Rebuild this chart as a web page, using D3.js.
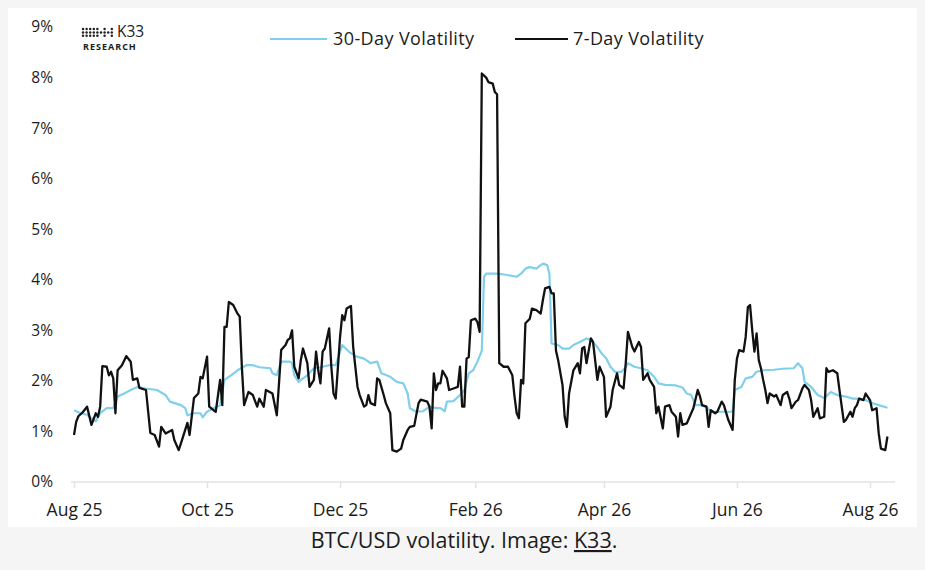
<meta charset="utf-8">
<style>
  html, body { margin: 0; padding: 0; background: #f5f5f5; }
  svg { display: block; }
  text { font-family: "Open Sans", Inter, sans-serif; fill: #1c1c1c; }
</style>
<body>
<script src="https://d3js.org/d3.v7.min.js"></script>
<script>
  var outerWidth = 925,
      outerHeight = 570;

  // series start; points are [day offset, volatility %]
  var startDate = new Date(2025, 7, 1);

  var vol30 = [
    [0, 1.42], [3, 1.36], [6, 1.33], [9, 1.23], [10, 1.20], [12, 1.36], [15, 1.46], [18, 1.46],
    [20, 1.69], [23, 1.75], [26, 1.82], [29, 1.88], [33, 1.85], [38, 1.82], [42, 1.72], [44, 1.59],
    [49, 1.52], [51, 1.46], [52, 1.32], [55, 1.36], [58, 1.36], [59, 1.28], [61, 1.39], [64, 1.46],
    [67, 1.52], [69, 2.02], [72, 2.11], [75, 2.21], [79, 2.31], [82, 2.31], [85, 2.27], [90, 2.25],
    [91, 2.15], [93, 2.11], [95, 2.38], [99, 2.38], [100, 2.35], [101, 2.11], [103, 1.98], [105, 2.05],
    [107, 2.11], [110, 2.25], [113, 2.27], [117, 2.31], [120, 2.31], [123, 2.71], [126, 2.58], [129, 2.49],
    [133, 2.44], [136, 2.35], [139, 2.38], [141, 2.15], [145, 2.08], [148, 1.98], [151, 1.95], [153, 1.75],
    [154, 1.46], [157, 1.39], [160, 1.40], [163, 1.49], [166, 1.46], [168, 1.46], [170, 1.40], [171, 1.59],
    [174, 1.60], [177, 1.72], [179, 1.82], [181, 2.15], [183, 2.21], [185, 2.38], [187, 2.60], [188, 4.06],
    [189, 4.12], [194, 4.12], [198, 4.10], [203, 4.06], [205, 4.12], [207, 4.22], [209, 4.25], [212, 4.22],
    [214, 4.29], [215, 4.32], [217, 4.29], [218, 4.12], [219, 2.74], [222, 2.71], [224, 2.64], [227, 2.64],
    [229, 2.71], [232, 2.77], [235, 2.84], [237, 2.81], [240, 2.67], [242, 2.54], [244, 2.45], [246, 2.28],
    [248, 2.18], [251, 2.18], [253, 2.27], [254, 2.35], [257, 2.28], [260, 2.25], [263, 2.21], [266, 2.08],
    [268, 1.95], [271, 1.92], [276, 1.91], [279, 1.87], [281, 1.75], [283, 1.72], [285, 1.52], [287, 1.52],
    [290, 1.49], [292, 1.39], [295, 1.39], [299, 1.39], [302, 1.39], [303, 1.82], [306, 1.88], [308, 2.05],
    [311, 2.08], [313, 2.18], [316, 2.21], [321, 2.22], [325, 2.24], [330, 2.25], [332, 2.35], [334, 2.25],
    [335, 1.98], [338, 1.88], [341, 1.72], [344, 1.66], [347, 1.78], [350, 1.72], [354, 1.69], [357, 1.65],
    [360, 1.65], [363, 1.62], [366, 1.56], [369, 1.52], [373, 1.47]
  ];

  var vol7 = [
    [0, 0.93], [1, 1.19], [2, 1.30], [4, 1.38], [6, 1.49], [8, 1.13], [10, 1.36], [11, 1.29],
    [12, 1.49], [13, 2.29], [15, 2.28], [16, 2.11], [17, 2.18], [18, 2.05], [19, 1.36], [20, 2.21],
    [22, 2.31], [24, 2.49], [26, 2.38], [27, 2.02], [29, 2.05], [30, 1.86], [33, 1.82], [35, 0.97],
    [37, 0.93], [39, 0.70], [40, 1.09], [42, 0.96], [45, 1.03], [46, 0.83], [48, 0.63], [49, 0.76],
    [52, 1.17], [53, 0.93], [55, 1.66], [57, 1.75], [58, 2.08], [59, 2.05], [61, 2.48], [62, 1.49],
    [64, 1.42], [65, 1.39], [67, 2.02], [68, 1.52], [69, 3.07], [70, 3.07], [71, 3.56], [73, 3.50],
    [75, 3.33], [76, 3.27], [77, 2.25], [78, 1.52], [80, 1.78], [82, 1.72], [84, 1.49], [85, 1.65],
    [87, 1.49], [88, 1.82], [91, 1.75], [93, 1.32], [94, 1.95], [95, 2.61], [97, 2.71], [98, 2.81],
    [99, 2.84], [100, 3.00], [101, 2.28], [103, 2.05], [104, 2.41], [105, 2.64], [107, 2.35], [108, 1.88],
    [110, 2.02], [111, 2.58], [112, 2.21], [113, 1.95], [114, 2.58], [115, 2.64], [117, 3.04], [118, 2.28],
    [119, 1.75], [120, 1.65], [122, 2.87], [123, 3.30], [124, 3.20], [125, 3.43], [127, 3.48], [128, 2.68],
    [130, 1.88], [131, 1.72], [133, 1.49], [134, 1.52], [135, 1.72], [136, 1.56], [138, 1.52], [139, 2.05],
    [140, 2.02], [142, 1.72], [143, 1.56], [145, 1.36], [146, 0.63], [148, 0.60], [150, 0.66], [151, 0.83],
    [153, 1.03], [154, 1.09], [156, 1.11], [158, 1.56], [159, 1.63], [162, 1.59], [163, 1.49], [164, 1.06],
    [165, 2.15], [166, 1.82], [167, 1.95], [168, 1.95], [169, 2.20], [171, 2.05], [172, 1.82], [174, 1.85],
    [176, 1.88], [177, 2.28], [178, 1.49], [179, 1.49], [180, 2.44], [181, 2.47], [182, 3.20], [184, 3.23],
    [185, 3.16], [186, 2.97], [187, 8.08], [189, 8.00], [190, 7.91], [192, 7.88], [193, 7.71], [194, 7.67],
    [195, 2.35], [197, 2.28], [199, 2.28], [201, 2.11], [202, 1.69], [203, 1.36], [204, 1.26], [205, 2.02],
    [206, 1.95], [207, 3.14], [209, 3.23], [210, 3.43], [212, 3.40], [214, 3.33], [215, 3.60], [216, 3.83],
    [218, 3.86], [219, 3.73], [220, 3.73], [221, 2.60], [222, 2.41], [224, 1.92], [225, 1.29], [226, 1.09],
    [227, 1.75], [229, 2.21], [231, 2.35], [232, 2.15], [233, 2.64], [234, 2.67], [235, 2.35], [237, 2.84],
    [238, 2.77], [240, 2.02], [241, 2.28], [243, 2.08], [244, 1.29], [246, 1.49], [247, 1.82], [249, 2.15],
    [250, 1.92], [252, 1.85], [253, 2.35], [254, 2.97], [256, 2.67], [257, 2.58], [259, 2.77], [260, 2.67],
    [261, 2.02], [263, 2.15], [264, 2.02], [266, 1.88], [267, 1.36], [268, 1.49], [270, 1.06], [271, 1.49],
    [273, 1.52], [274, 1.39], [276, 1.29], [277, 0.90], [278, 1.36], [279, 1.13], [281, 1.16], [282, 1.26],
    [284, 1.46], [286, 1.82], [287, 1.70], [288, 1.52], [290, 1.49], [291, 1.09], [292, 1.42], [294, 1.36],
    [295, 1.39], [297, 1.59], [298, 1.52], [300, 1.23], [302, 1.03], [303, 2.02], [304, 2.44], [305, 2.61],
    [307, 2.58], [308, 2.87], [309, 3.46], [310, 3.50], [311, 3.00], [312, 2.58], [313, 2.94], [314, 2.41],
    [315, 2.25], [316, 2.02], [317, 1.82], [318, 1.56], [319, 1.75], [321, 1.69], [322, 1.72], [324, 1.52],
    [325, 1.72], [327, 1.78], [328, 1.65], [329, 1.46], [331, 1.59], [332, 1.62], [334, 1.85], [335, 1.92],
    [337, 1.82], [338, 1.62], [339, 1.29], [341, 1.46], [342, 1.26], [344, 1.29], [345, 2.25], [346, 2.18],
    [348, 2.21], [350, 2.15], [351, 1.82], [353, 1.19], [354, 1.23], [356, 1.39], [357, 1.29], [358, 1.46],
    [359, 1.52], [360, 1.65], [362, 1.62], [363, 1.75], [365, 1.62], [366, 1.42], [368, 1.46], [369, 0.96],
    [370, 0.66], [372, 0.63], [373, 0.90]
  ];

  var yTicks = [0, 1, 2, 3, 4, 5, 6, 7, 8, 9];
  var xTicks = [
    new Date(2025, 7, 1), new Date(2025, 9, 1), new Date(2025, 11, 1), new Date(2026, 1, 1),
    new Date(2026, 3, 1), new Date(2026, 5, 1), new Date(2026, 7, 1)
  ];
  var seriesNames = ["30-Day Volatility", "7-Day Volatility"];
  var seriesColors = ["#80d0ec", "#111111"];

  var svg = d3.select("body")
              .append("svg")
              .attr("width", outerWidth)
              .attr("height", outerHeight);

  // card
  svg.append("rect")
     .attr("x", 8).attr("y", 8)
     .attr("width", 909).attr("height", 519)
     .attr("fill", "#ffffff");

  var x = d3.scaleTime()
            .domain([new Date(2025, 7, 1), new Date(2026, 7, 1)])
            .range([74, 870]);

  var y = d3.scaleLinear()
            .domain([0, 9])
            .range([482, 27]);

  function toDate(d) { return d3.timeDay.offset(startDate, d[0]); }

  // baseline
  svg.append("line")
     .attr("x1", 71).attr("x2", 895)
     .attr("y1", y(0)).attr("y2", y(0))
     .attr("stroke", "#e3e3e3")
     .attr("stroke-width", 1.5);

  // x axis
  var xAxis = svg.append("g")
                 .attr("transform", "translate(0," + y(0) + ")")
                 .call(d3.axisBottom(x)
                         .tickValues(xTicks)
                         .tickSize(6)
                         .tickPadding(16)
                         .tickFormat(d3.timeFormat("%b %y")));
  xAxis.select(".domain").remove();
  xAxis.selectAll(".tick line").attr("stroke", "#e3e3e3").attr("stroke-width", 1.5);
  xAxis.selectAll(".tick text")
       .attr("font-size", 17.5)
       .attr("fill", "#1c1c1c")
       .style("font-family", "'Open Sans', Inter, sans-serif");

  // y axis
  var yAxis = svg.append("g")
                 .attr("transform", "translate(53,0)")
                 .call(d3.axisLeft(y)
                         .tickValues(yTicks)
                         .tickSize(0)
                         .tickPadding(0)
                         .tickFormat(function (d) { return d + "%"; }));
  yAxis.select(".domain").remove();
  yAxis.selectAll(".tick text")
       .attr("font-size", 15.5)
       .attr("fill", "#1c1c1c")
       .style("font-family", "'Open Sans', Inter, sans-serif");

  var line = d3.line()
               .x(function (d) { return x(toDate(d)); })
               .y(function (d) { return y(d[1]); });

  svg.append("path")
     .datum(vol30)
     .attr("d", line)
     .attr("fill", "none")
     .attr("stroke", seriesColors[0])
     .attr("stroke-width", 2.2)
     .attr("stroke-linejoin", "round");

  svg.append("path")
     .datum(vol7)
     .attr("d", line)
     .attr("fill", "none")
     .attr("stroke", seriesColors[1])
     .attr("stroke-width", 2.3)
     .attr("stroke-linejoin", "round");

  // legend
  var legendX = [270, 515];
  var legend = svg.selectAll(".legend")
                  .data(seriesNames)
                  .enter()
                  .append("g")
                  .attr("class", "legend")
                  .attr("transform", function (d, i) { return "translate(" + legendX[i] + ",39)"; });
  legend.append("line")
        .attr("x1", 0)
        .attr("x2", function (d, i) { return [57, 53][i]; })
        .attr("stroke", function (d, i) { return seriesColors[i]; })
        .attr("stroke-width", 2.2);
  legend.append("text")
        .attr("x", function (d, i) { return [63, 58][i]; })
        .attr("dy", "0.35em")
        .attr("font-size", 18)
        .attr("letter-spacing", 0.4)
        .text(function (d) { return d; });

  // logo
  var logo = svg.append("g").attr("transform", "translate(83,29)");
  var dots = [];
  for (var r = 0; r < 3; r++) {
      for (var c = 0; c < 9; c++) {
          if (c < 4 || (c % 2 === 0) || r === 1) dots.push([c, r]);
      }
  }
  logo.selectAll("circle")
      .data(dots)
      .enter()
      .append("circle")
      .attr("cx", function (d) { return d[0] * 3.6; })
      .attr("cy", function (d) { return d[1] * 3.4; })
      .attr("r", 1.25)
      .attr("fill", "#222");
  logo.append("text")
      .attr("x", 34).attr("y", 7.5)
      .attr("font-size", 15.5)
      .text("K33");
  logo.append("text")
      .attr("x", 0).attr("y", 21)
      .attr("font-size", 9)
      .attr("font-weight", 700)
      .attr("letter-spacing", 1)
      .text("RESEARCH");

  // caption
  var caption = svg.append("text")
                   .attr("x", 464)
                   .attr("y", 548)
                   .attr("text-anchor", "middle")
                   .attr("font-size", 21.5)
                   .attr("fill", "#1c1c1c");
  caption.append("tspan").text("BTC/USD volatility. Image: ");
  caption.append("tspan").attr("text-decoration", "underline").text("K33");
  caption.append("tspan").text(".");
</script>
</body>
